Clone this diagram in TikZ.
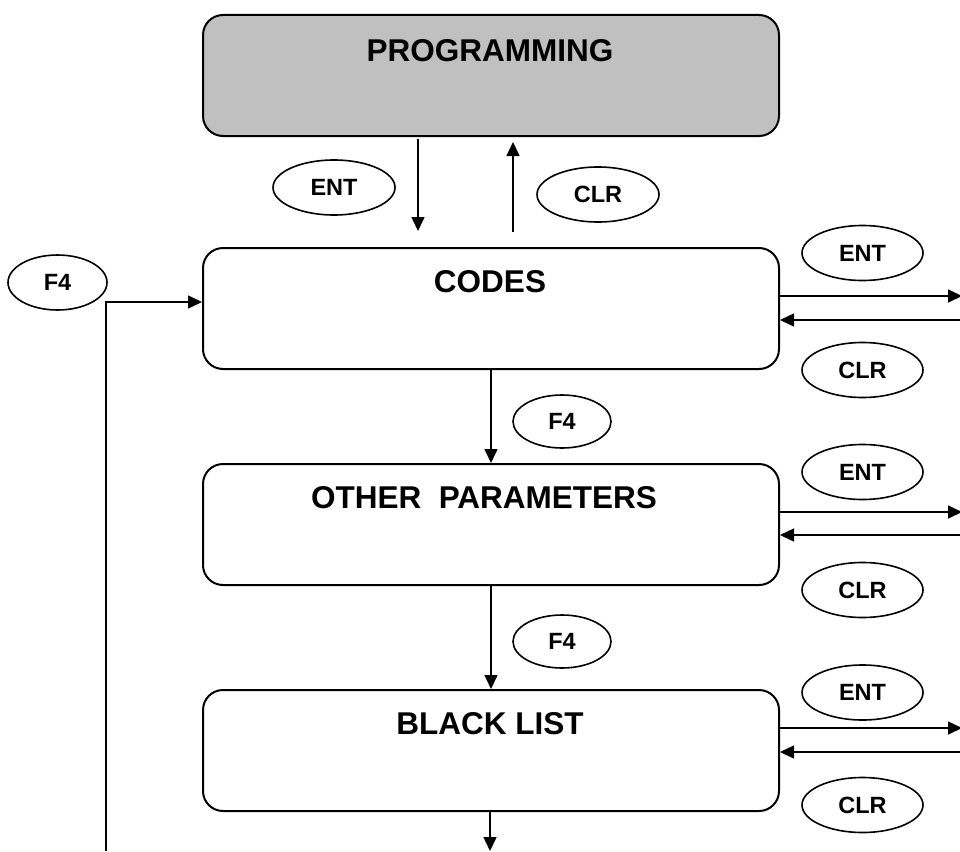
\documentclass[tikz,border=0pt]{standalone}
\usepackage{fontspec}
\setmainfont{Liberation Sans}
\usetikzlibrary{shapes.geometric,arrows.meta}
\definecolor{progfill}{RGB}{192,192,192}
\begin{document}
\begin{tikzpicture}[x=1pt,y=-1pt,
 box/.style={draw,line width=2pt,rounded corners=20pt,minimum width=576pt,minimum height=121pt,anchor=north west,inner sep=0pt},
 title/.style={font=\fontsize{31.5}{34}\selectfont\bfseries,inner sep=0pt},
 key/.style={draw,ellipse,line width=1.6pt,minimum width=122pt,minimum height=55pt,inner sep=0pt,font=\fontsize{23.5}{26}\selectfont\bfseries},
 arr/.style={line width=1.5pt,-{Triangle[length=14pt,width=13pt]}}]
\useasboundingbox (0,0) rectangle (960,851);
% boxes
\node[box,fill=progfill] (prog) at (202,14) {};
\node[title] (progt) at (490,51) {PROGRAMMING};
\node[box] (codes) at (202,247) {};
\node[title] (codest) at (490,282) {CODES};
\node[box] (other) at (202,463) {};
\node[title] (othert) at (484,498) {OTHER\ \ PARAMETERS};
\node[box] (black) at (202,689) {};
\node[title] (blackt) at (490,724) {BLACK LIST};
% keys
\node[key] (ent0) at (334,187.5) {ENT};
\node[key] (clr0) at (598,194.5) {CLR};
\node[key,minimum width=99pt] (f4l) at (57.5,282.5) {F4};
\node[key,minimum width=121pt] (ent1) at (862.5,253) {ENT};
\node[key,minimum width=121pt] (clr1) at (862.5,370) {CLR};
\node[key,minimum width=98pt,minimum height=53pt] (f4a) at (562,421.5) {F4};
\node[key,minimum width=121pt] (ent2) at (862.5,472) {ENT};
\node[key,minimum width=121pt] (clr2) at (862.5,590) {CLR};
\node[key,minimum width=98pt,minimum height=53pt] (f4b) at (562,641.5) {F4};
\node[key,minimum width=121pt] (ent3) at (862.5,692.5) {ENT};
\node[key,minimum width=121pt] (clr3) at (862.5,805) {CLR};
% connectors
\coordinate (d0s) at (418,139);
\coordinate (d0e) at (418,231);
\coordinate (u0s) at (513,232);
\coordinate (u0e) at (513,142);
\draw[arr] (d0s) -- (d0e);
\draw[arr] (u0s) -- (u0e);
\coordinate (loop) at (106,851);
\coordinate (loopc) at (106,302);
\draw[arr] (loop) -- (loopc) -- (codes.west |- loopc);
\draw[arr] (codes.south) -- (other.north);
\draw[arr] (other.south) -- (black.north);
\coordinate (bend) at (490,851);
\draw[arr] (black.south -| bend) -- (bend);
\foreach \b/\yo/\yi in {codes/296/320,other/512/535,black/728/752}{
  \coordinate (\b out) at (962,\yo);
  \coordinate (\b in) at (960,\yi);
  \draw[arr] (\b.east |- \b out) -- (\b out);
  \draw[arr] (\b in) -- (\b.east |- \b in);
}
\end{tikzpicture}
\end{document}
